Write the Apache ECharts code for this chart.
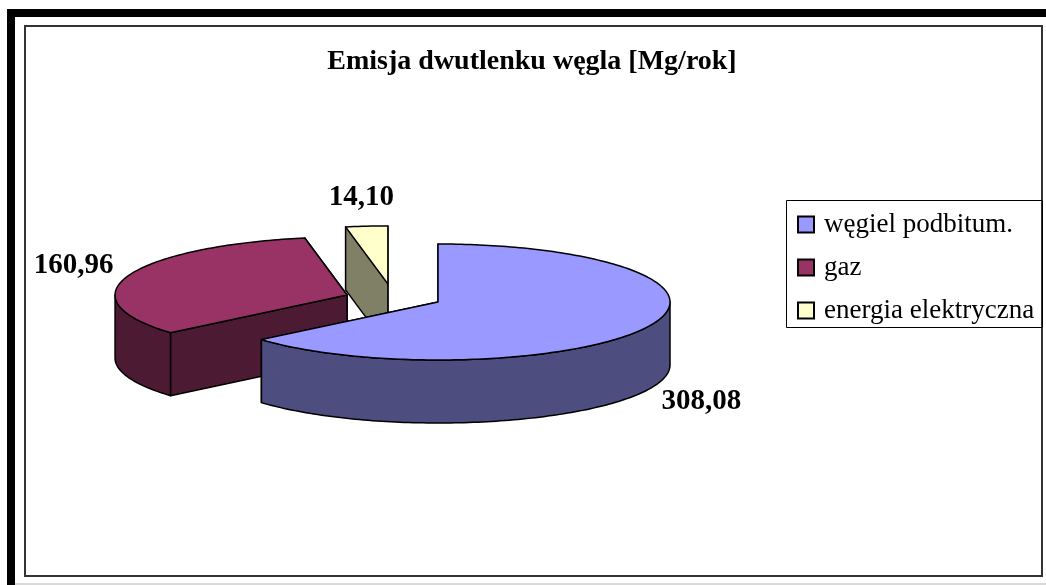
<!DOCTYPE html>
<html>
<head>
<meta charset="utf-8">
<script src="https://cdn.jsdelivr.net/npm/echarts@6/dist/echarts.min.js"></script>
<style>
html,body{margin:0;padding:0;background:#fff;}
#chart{width:1046px;height:585px;}
</style>
</head>
<body>
<div id="chart"></div>
<script>
// ---- data ----
const categories = ['węgiel podbitum.', 'gaz', 'energia elektryczna'];
const values = [308.08, 160.96, 14.10];
const chartTitle = 'Emisja dwutlenku węgla [Mg/rok]';

// ---- styles / layout ----
const topColors = ['#9999FF', '#993366', '#FFFFCC'];
const sideColors = ['#4D4D80', '#4D1A33', '#808066'];
const explode = [[0, 0], [-0.392, 0.030], [-0.216, 0.078]]; // in radius units
const W = 1046, H = 585;
const R_PX = 232;            // pie radius in px (x)
const CX_PX = 438, CY_PX = 302; // pie centre in px
const TILT = 58 / R_PX;      // vertical squash of the top ellipse
const DEPTH = 63 / R_PX;     // thickness of the pie
const serif = '"Liberation Serif", "Times New Roman", serif';

const total = values.reduce((a, b) => a + b, 0);
function sliceAngles(i) {
  let s = 0;
  for (let k = 0; k < i; k++) s += values[k];
  const a0 = s / total * Math.PI * 2;
  const a1 = (s + values[i]) / total * Math.PI * 2;
  return [a0, a1];
}
function fmt(v) { return v.toFixed(2).replace('.', ','); }

function makeRender(i) {
  return function (params, api) {
    const [a0, a1] = sliceAngles(i);
    const c = explode[i];
    const P = (th, z) => api.coord([c[0] + Math.sin(th), c[1] + TILT * Math.cos(th) - z]);
    const C = (z) => api.coord([c[0], c[1] - z]);
    const stroke = { stroke: '#000', lineWidth: 1.5, lineJoin: 'round' };
    const children = [];
    // radial faces: hidden first, visible after
    const faces = [
      { th: a0, vis: Math.cos(a0 - Math.PI / 2) < 0 },
      { th: a1, vis: Math.cos(a1 + Math.PI / 2) < 0 }
    ].sort((p, q) => (p.vis ? 1 : 0) - (q.vis ? 1 : 0));
    faces.forEach(f => {
      children.push({
        type: 'polygon',
        shape: { points: [C(0), P(f.th, 0), P(f.th, DEPTH), C(DEPTH)] },
        style: Object.assign({ fill: sideColors[i] }, stroke)
      });
    });
    // outer wall (front half only)
    const lo = Math.max(a0, Math.PI / 2), hi = Math.min(a1, Math.PI * 1.5);
    if (hi > lo) {
      const n = Math.max(8, Math.ceil((hi - lo) / 0.02));
      const pts = [];
      for (let k = 0; k <= n; k++) pts.push(P(lo + (hi - lo) * k / n, 0));
      for (let k = n; k >= 0; k--) pts.push(P(lo + (hi - lo) * k / n, DEPTH));
      children.push({ type: 'polygon', shape: { points: pts }, style: Object.assign({ fill: sideColors[i] }, stroke) });
    }
    // top face
    const n2 = Math.max(4, Math.ceil((a1 - a0) / 0.02));
    const tp = [C(0)];
    for (let k = 0; k <= n2; k++) tp.push(P(a0 + (a1 - a0) * k / n2, 0));
    children.push({ type: 'polygon', shape: { points: tp }, style: Object.assign({ fill: topColors[i] }, stroke) });
    // label (outside the rim, along the slice's middle angle)
    const m = (a0 + a1) / 2;
    const front = Math.cos(m) < 0;
    const lp = api.coord([c[0] + Math.sin(m) * 1.25, c[1] + TILT * Math.cos(m) * 1.5 - (front ? DEPTH : 0)]);
    children.push({
      type: 'text',
      style: {
        text: fmt(values[i]), x: lp[0], y: lp[1], align: 'center', verticalAlign: 'middle',
        fill: '#000', font: 'bold 29px ' + serif
      }
    });
    return { type: 'group', children: children };
  };
}

// draw order: back slices first
const order = categories.map((_, i) => i).sort((p, q) => {
  const mp = sliceAngles(p), mq = sliceAngles(q);
  return Math.cos((mq[0] + mq[1]) / 2) - Math.cos((mp[0] + mp[1]) / 2);
});
const series = order.map(i => ({
  type: 'custom',
  name: categories[i],
  coordinateSystem: 'cartesian2d',
  renderItem: makeRender(i),
  data: [[0, 0]],
  itemStyle: { color: topColors[i] },
  clip: false,
  silent: true
}));

const chart = echarts.init(document.getElementById('chart'), null, { renderer: 'canvas' });
chart.setOption({
  animation: false,
  backgroundColor: '#fff',
  title: {
    text: chartTitle, left: 532, top: 48, textAlign: 'center', padding: 0,
    textStyle: { fontFamily: serif, fontWeight: 'bold', fontSize: 28, color: '#000' }
  },
  grid: { left: 0, right: 0, top: 0, bottom: 0 },
  xAxis: { type: 'value', min: -CX_PX / R_PX, max: (W - CX_PX) / R_PX, show: false },
  yAxis: { type: 'value', min: -(H - CY_PX) / R_PX, max: CY_PX / R_PX, show: false },
  legend: {
    data: categories, orient: 'vertical', left: 797, top: 211, padding: 0,
    icon: 'rect', itemWidth: 16, itemHeight: 16, itemGap: 16,
    itemStyle: { borderColor: '#000', borderWidth: 2 },
    textStyle: { fontFamily: serif, fontSize: 27, lineHeight: 27, color: '#000', padding: [0, 0, 0, 5] },
    selectedMode: false
  },
  graphic: [
    { type: 'rect', shape: { x: 7, y: 9, width: W - 7, height: 8 }, style: { fill: '#000' }, z: 10 },
    { type: 'rect', shape: { x: 7, y: 9, width: 8, height: H - 9 }, style: { fill: '#000' }, z: 10 },
    { type: 'rect', shape: { x: 15, y: 583, width: W - 15, height: 2 }, style: { fill: '#d9d9d9' }, z: 10 },
    { type: 'rect', shape: { x: 25, y: 26, width: 1017, height: 550 }, style: { fill: 'none', stroke: '#333', lineWidth: 2 }, z: 10 },
    { type: 'rect', shape: { x: 786.5, y: 200.5, width: 256, height: 127 }, style: { fill: 'none', stroke: '#000', lineWidth: 1 }, z: 10 }
  ],
  series: series
});
</script>
</body>
</html>
